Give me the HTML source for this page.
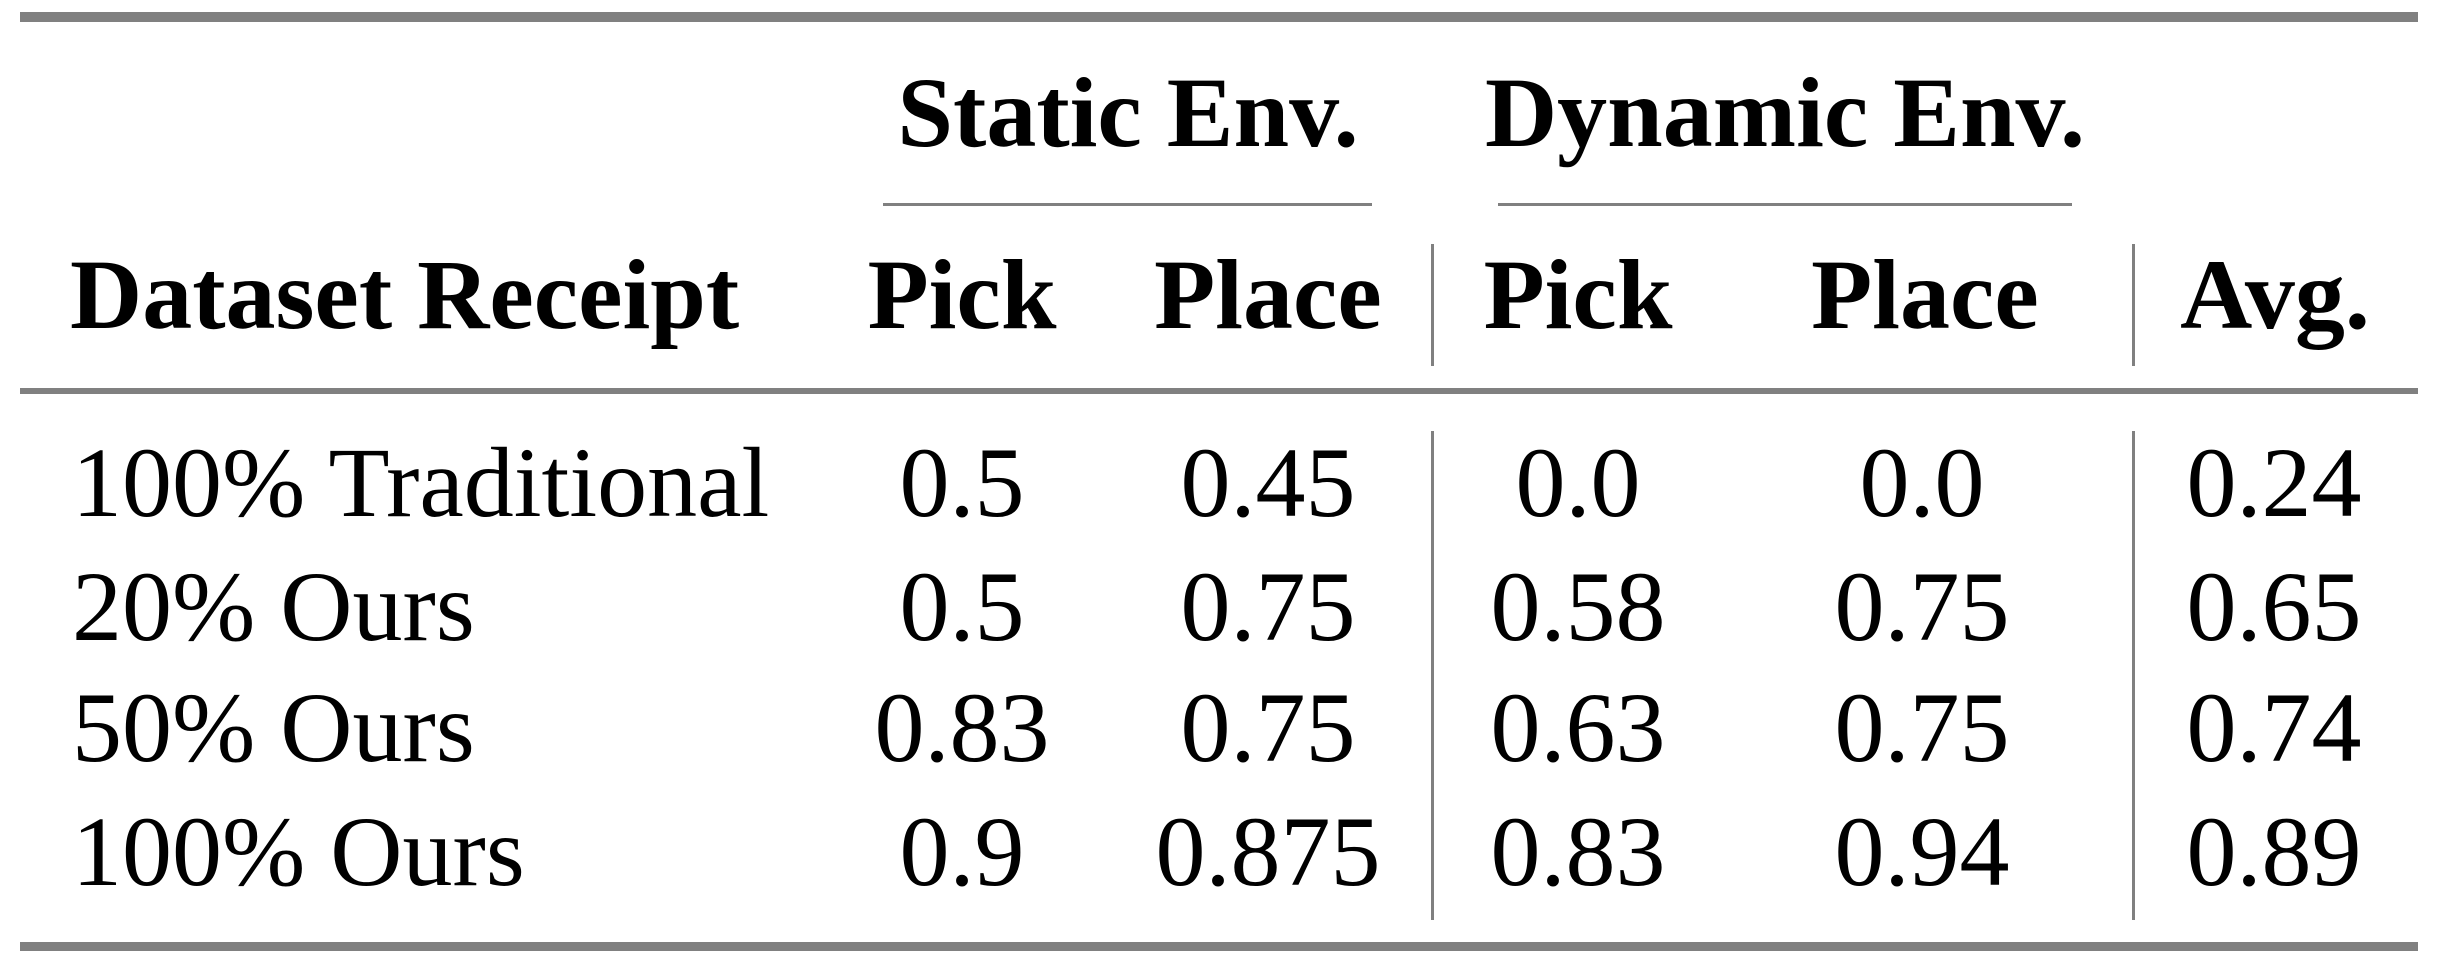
<!DOCTYPE html>
<html><head><style>html,body{margin:0;padding:0;background:#fff;}svg{display:block}</style></head>
<body>
<svg width="2440" height="966" viewBox="0 0 2440 966" xmlns="http://www.w3.org/2000/svg">
<g fill="#808080">
<rect x="20" y="12" width="2398" height="10"/>
<rect x="883" y="203" width="489" height="3"/>
<rect x="1498" y="203" width="574" height="3"/>
<rect x="20" y="388" width="2398" height="6"/>
<rect x="20" y="942" width="2398" height="9"/>
<rect x="1431" y="244" width="3" height="122"/>
<rect x="2132" y="244" width="3" height="122"/>
<rect x="1431" y="431" width="3" height="489"/>
<rect x="2132" y="431" width="3" height="489"/>
</g>
<g font-family="'Liberation Serif', serif" font-size="100" fill="#000">
<g font-weight="bold" text-anchor="middle">
<text x="1128" y="146">Static Env.</text>
<text x="1785" y="146">Dynamic Env.</text>
<text x="962" y="328">Pick</text>
<text x="1268" y="328">Place</text>
<text x="1578" y="328">Pick</text>
<text x="1925" y="328">Place</text>
<text x="2275" y="328">Avg.</text>
</g>
<text x="70" y="328" font-weight="bold">Dataset Receipt</text>
<text x="72" y="516">100% Traditional</text>
<text x="72" y="640">20% Ours</text>
<text x="72" y="761">50% Ours</text>
<text x="72" y="885">100% Ours</text>
<g text-anchor="middle">
<text x="962" y="516">0.5</text><text x="1268" y="516">0.45</text><text x="1578" y="516">0.0</text><text x="1922" y="516">0.0</text><text x="2274" y="516">0.24</text>
<text x="962" y="640">0.5</text><text x="1268" y="640">0.75</text><text x="1578" y="640">0.58</text><text x="1922" y="640">0.75</text><text x="2274" y="640">0.65</text>
<text x="962" y="761">0.83</text><text x="1268" y="761">0.75</text><text x="1578" y="761">0.63</text><text x="1922" y="761">0.75</text><text x="2274" y="761">0.74</text>
<text x="962" y="885">0.9</text><text x="1268" y="885">0.875</text><text x="1578" y="885">0.83</text><text x="1922" y="885">0.94</text><text x="2274" y="885">0.89</text>
</g>
</g>
</svg>
</body></html>
